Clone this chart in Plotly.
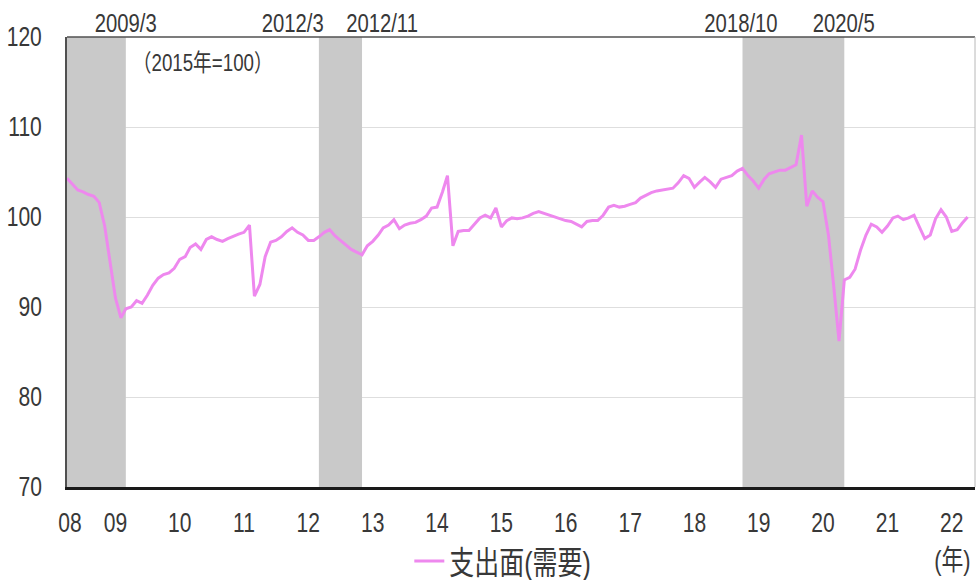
import pandas as pd
import plotly.graph_objects as go

# Monthly index, 2008/4 - 2022/4 (2015 = 100)
values_2008 = [104.3, 103.6, 103.0, 102.8, 102.5, 102.3, 101.6, 99.0, 95.0]
values_2009 = [91.0, 88.8, 89.8, 90.0, 90.7, 90.4, 91.3, 92.4, 93.2, 93.6, 93.8, 94.3]
values_2010 = [95.3, 95.6, 96.6, 97.0, 96.4, 97.5, 97.8, 97.5, 97.3, 97.6, 97.9, 98.1]
values_2011 = [98.3, 99.1, 91.2, 92.5, 95.6, 97.2, 97.4, 97.8, 98.4, 98.8, 98.3, 98.0]
values_2012 = [97.4, 97.4, 97.8, 98.3, 98.6, 97.9, 97.4, 96.9, 96.4, 96.1, 95.8, 96.8]
values_2013 = [97.3, 98.0, 98.8, 99.1, 99.7, 98.7, 99.1, 99.3, 99.4, 99.7, 100.1, 101.0]
values_2014 = [101.1, 102.8, 104.6, 96.8, 98.4, 98.5, 98.5, 99.2, 99.9, 100.2, 99.9, 101.0]
values_2015 = [98.9, 99.6, 99.9, 99.8, 99.9, 100.1, 100.4, 100.6, 100.4, 100.2, 100.0, 99.8]
values_2016 = [99.6, 99.5, 99.2, 98.9, 99.5, 99.6, 99.6, 100.2, 101.1, 101.3, 101.1, 101.2]
values_2017 = [101.4, 101.6, 102.1, 102.4, 102.7, 102.9, 103.0, 103.1, 103.2, 103.8, 104.6, 104.3]
values_2018 = [103.3, 103.9, 104.4, 103.9, 103.3, 104.2, 104.4, 104.6, 105.1, 105.4, 104.6, 104.0]
values_2019 = [103.2, 104.2, 104.8, 105.0, 105.2, 105.2, 105.5, 105.8, 109.1, 101.2, 102.9, 102.2]
values_2020 = [101.7, 98.0, 92.5, 86.2, 93.0, 93.3, 94.2, 96.3, 98.0, 99.2, 98.9, 98.3]
values_2021 = [99.0, 99.9, 100.1, 99.7, 99.9, 100.2, 98.9, 97.6, 98.0, 99.8, 100.8, 100.0]
values_2022 = [98.4, 98.6, 99.3, 100.0]

spending = (values_2008 + values_2009 + values_2010 + values_2011 + values_2012
            + values_2013 + values_2014 + values_2015 + values_2016 + values_2017
            + values_2018 + values_2019 + values_2020 + values_2021 + values_2022)
months = pd.date_range("2008-04-01", periods=len(spending), freq="MS")

# Recession periods (peak, trough)
recessions = [("2008-04-01", "2009-03-01"), ("2012-03-01", "2012-11-01"),
              ("2018-10-01", "2020-05-01")]
recession_labels = [("2009-03-01", "2009/3", 0), ("2012-03-01", "2012/3", -26),
                    ("2012-11-01", "2012/11", 20), ("2018-10-01", "2018/10", -2),
                    ("2020-05-01", "2020/5", 0)]

tick_dates = ["2008-04-18"] + [f"{y}-01-01" for y in range(2009, 2023)]
tick_text = ["08"] + [f"{y % 100:02d}" for y in range(2009, 2023)]

FONT = "Liberation Sans, Arial, Noto Sans CJK JP, sans-serif"
TXT = "#383838"

fig = go.Figure()
fig.add_trace(go.Scatter(
    x=months, y=spending, mode="lines", name="支出面(需要)",
    line=dict(color="#ee88ee", width=3),
))

for x0, x1 in recessions:
    fig.add_shape(type="rect", xref="x", yref="y", x0=x0, x1=x1, y0=70, y1=120,
                  fillcolor="#c9c9c9", line=dict(width=0), layer="between")

for xd, label, shift in recession_labels:
    fig.add_annotation(x=xd, xref="x", y=1, yref="paper", text=label,
                       showarrow=False, xshift=shift, yshift=14,
                       xanchor="center", yanchor="middle",
                       font=dict(family=FONT, size=26, color=TXT))

# Frame: top and right edges
fig.add_shape(type="line", xref="paper", yref="paper", x0=0, x1=1, y0=1, y1=1,
              line=dict(color="#505050", width=1.5), layer="above")
fig.add_shape(type="line", xref="paper", yref="paper", x0=1, x1=1, y0=0, y1=1,
              line=dict(color="#b8b8b8", width=1), layer="above")

fig.add_annotation(x=0.1487, xref="paper", y=1, yref="paper", text="（2015年=100）",
                   showarrow=False, yshift=-25, xanchor="center", yanchor="middle",
                   font=dict(family=FONT, size=24, color=TXT))
fig.add_annotation(x=1, xref="paper", y=0, yref="paper", text="(年)",
                   showarrow=False, xshift=3, yshift=-73, xanchor="right", yanchor="middle",
                   font=dict(family=FONT, size=28, color=TXT))

fig.update_layout(
    width=978, height=580,
    margin=dict(l=67, r=3, t=37, b=93, autoexpand=False),
    paper_bgcolor="white", plot_bgcolor="white",
    font=dict(family=FONT, color=TXT),
    showlegend=True,
    legend=dict(orientation="h", x=0.377, xanchor="left", y=-0.165, yanchor="middle",
                font=dict(family=FONT, size=32, color=TXT), bgcolor="rgba(0,0,0,0)"),
    xaxis=dict(type="date", range=["2008-04-01", "2022-05-13"],
               tickmode="array", tickvals=tick_dates, ticktext=tick_text,
               showgrid=False, zeroline=False, ticks="",
               showline=True, linecolor="#1a1a1a", linewidth=2.5,
               tickfont=dict(family=FONT, size=27, color=TXT),
               ticklabelstandoff=10),
    yaxis=dict(range=[70, 120], dtick=10, tick0=70,
               showgrid=True, gridcolor="#dedede", gridwidth=1, zeroline=False,
               showline=True, linecolor="#505050", linewidth=1.5, ticks="",
               tickfont=dict(family=FONT, size=27, color=TXT),
               ticklabelstandoff=18),
)

# Condensed lettering: narrow every text element horizontally about its anchor
condense_js = """
var gd = document.getElementById('{plot_id}');
gd.querySelectorAll('svg text').forEach(function (t) {
  var x = parseFloat(t.getAttribute('x')) || 0;
  var tr = t.getAttribute('transform') || '';
  t.setAttribute('transform', tr + ' translate(' + x + ',0) scale(0.78,1) translate(' + (-x) + ',0)');
});
"""

fig.write_html("out.html", post_script=condense_js)
